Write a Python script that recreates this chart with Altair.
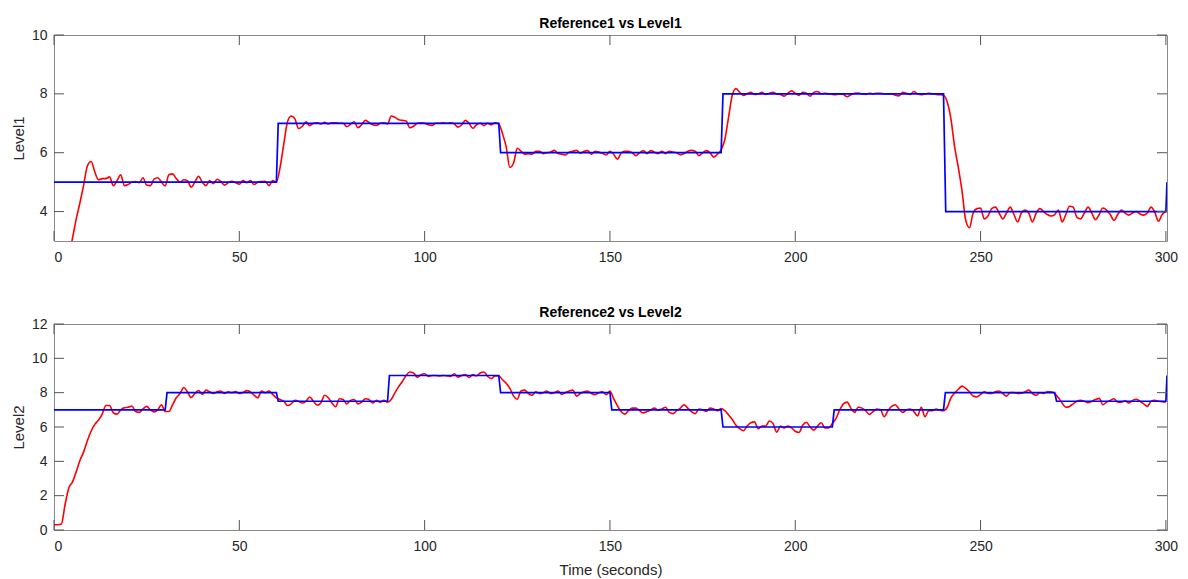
import altair as alt
import pandas as pd

# ---------------- data ----------------
time_s = list(range(301))

level1 = [
    0.6, 1.0, 1.5, 2.0, 2.5, 3.1, 3.75, 4.3, 4.9, 5.55,
    5.7, 5.35, 5.08, 5.12, 5.12, 5.18, 4.88, 5.05, 5.25, 4.88,
    4.92, 5.0, 5.02, 4.98, 5.15, 4.9, 4.88, 5.1, 5.15, 5.0,
    4.87, 5.25, 5.28, 5.12, 5.0, 5.08, 5.05, 4.83, 5.0, 5.2,
    5.0, 4.88, 5.05, 4.95, 5.1, 5.03, 4.9, 4.98, 5.03, 4.98,
    4.93, 5.05, 4.98, 5.05, 4.92, 5.0, 5.02, 5.03, 4.88, 5.05,
    5.0, 5.5, 6.3, 7.05, 7.25, 7.15, 6.82, 6.9, 7.05, 6.92,
    7.0, 7.02, 6.98, 7.03, 6.98, 7.02, 7.02, 7.0, 7.0, 6.88,
    6.97, 7.05, 6.85, 6.95, 7.1, 7.03, 6.95, 6.93, 7.0, 7.02,
    6.98, 7.25, 7.2, 7.12, 7.1, 7.08, 6.85, 6.9, 7.0, 7.02,
    7.0, 6.95, 6.93, 7.0, 7.0, 7.02, 7.0, 7.02, 6.98, 6.87,
    6.95, 7.1, 7.0, 6.83, 6.95, 7.0, 6.92, 7.0, 6.95, 7.02,
    6.98, 6.65, 6.2, 5.5, 5.65, 6.15, 6.05, 5.95, 5.97, 5.95,
    6.05, 6.05, 5.97, 6.0, 6.02, 6.08, 5.97, 5.95, 5.92, 6.02,
    6.05, 6.08, 5.98, 6.05, 6.07, 5.95, 6.05, 6.02, 5.98, 5.92,
    6.05, 5.95, 5.78, 5.98, 6.05, 6.05, 6.0, 5.9, 6.0, 6.07,
    5.97, 6.07, 6.02, 5.97, 6.05, 5.97, 6.05, 6.02, 6.0, 5.93,
    5.97, 6.05, 6.08, 6.05, 5.9, 6.0, 6.07, 6.0, 5.85, 5.95,
    6.1, 6.45, 7.2, 7.95, 8.18, 8.05, 7.95, 8.0, 8.05, 7.98,
    8.0, 8.05, 7.98, 8.02, 8.05, 8.0, 7.98, 7.92, 8.02, 8.1,
    8.02, 7.95, 8.05, 8.02, 7.92, 8.05, 8.08, 8.0, 8.02, 8.0,
    7.98, 7.97, 8.0, 7.98, 7.9, 7.97, 8.02, 8.03, 8.0, 7.98,
    8.02, 8.0, 8.02, 8.02, 8.0, 8.0, 8.0, 7.95, 7.93, 8.05,
    8.02, 7.98, 8.08, 8.0, 7.97, 8.0, 8.02, 8.0, 7.98, 7.97,
    7.95, 7.72, 7.15, 6.2, 5.5, 4.7, 3.7, 3.45, 3.95, 4.1,
    4.12, 3.75, 3.85, 4.1, 4.15, 3.95, 3.75, 3.95, 4.15, 3.9,
    3.65, 3.95, 4.05, 3.95, 3.65, 3.95, 4.1, 4.0, 3.9, 3.85,
    3.9, 4.05, 3.65, 3.9, 4.18, 4.15, 3.8, 3.75, 3.95, 4.15,
    3.95, 3.72, 3.9, 4.12, 4.05, 3.9, 3.7, 3.9, 4.05, 3.95,
    3.88, 3.95, 4.0, 3.92, 3.88, 3.95, 4.15, 3.98, 3.67, 3.9,
    4.0,
]

level2 = [
    0.31, 0.31, 0.35, 1.5, 2.45, 2.8, 3.4, 4.05, 4.55, 5.2,
    5.75, 6.15, 6.4, 6.75, 7.25, 7.25, 6.83, 6.75, 7.0, 7.12,
    7.15, 7.22, 6.9, 6.85, 7.05, 7.2, 7.0, 6.88, 7.0, 7.3,
    6.9, 6.9, 7.3, 7.7, 7.95, 8.3, 8.05, 7.72, 7.95, 8.13,
    7.9, 8.15, 8.05, 7.95, 8.05, 8.1, 7.95, 8.05, 8.0, 8.07,
    7.95, 8.02, 8.12, 8.05, 7.85, 7.7, 8.1, 8.0, 8.1, 7.9,
    7.7, 7.6, 7.5, 7.25, 7.35, 7.55, 7.5, 7.4, 7.5, 7.75,
    7.5, 7.27, 7.4, 7.85, 7.7, 7.4, 7.18, 7.65, 7.6, 7.35,
    7.55, 7.6, 7.35, 7.45, 7.65, 7.6, 7.4, 7.55, 7.45, 7.55,
    7.45, 7.6, 8.0, 8.35, 8.65, 9.0, 9.2, 9.15, 8.9, 9.05,
    9.1, 8.95, 9.0, 9.0, 8.98, 9.0, 8.98, 8.95, 9.1, 8.9,
    9.0, 9.05, 8.88, 9.05, 8.98, 9.15, 9.2, 8.95, 8.82, 8.98,
    8.98, 8.75, 8.55, 8.25, 7.8, 7.62, 8.1, 8.15, 7.95, 7.85,
    8.05, 7.95, 8.0, 8.1, 7.95, 8.0, 8.1, 7.9, 8.0, 8.1,
    8.15, 7.8, 7.95, 8.05, 8.1, 7.95, 7.88, 8.0, 8.05, 7.88,
    8.1, 7.65, 7.25, 6.9, 6.75, 6.95, 7.1, 7.1, 6.95, 6.82,
    6.9, 7.0, 7.1, 6.98, 7.05, 7.15, 6.85, 6.78, 6.95, 7.1,
    7.3, 7.1, 6.9, 6.78, 7.05, 7.0, 6.92, 7.1, 7.05, 6.95,
    7.08, 6.95, 6.7, 6.44, 6.1, 5.9, 5.78, 6.05, 6.25, 6.3,
    5.9, 6.05, 6.05, 6.35, 6.2, 5.7, 6.05, 5.95, 6.05, 5.95,
    5.75, 5.68, 6.1, 6.28, 6.0, 5.82, 6.05, 6.25, 5.95, 5.95,
    6.2, 6.5, 7.0, 7.35, 7.45, 7.1, 6.85, 7.15, 7.1, 6.95,
    6.73, 6.9, 7.05, 7.0, 6.6, 6.95, 7.2, 7.3, 7.05, 6.85,
    7.0, 7.05, 6.9, 6.65, 7.15, 6.6, 6.95, 6.95, 7.05, 6.98,
    6.95, 7.15, 7.7, 7.98, 8.2, 8.38, 8.25, 8.05, 7.8, 7.75,
    7.9, 8.05, 7.95, 7.95, 8.05, 8.1, 7.95, 7.8, 8.0, 8.0,
    7.95, 7.97, 8.05, 8.15, 7.95, 7.85, 8.0, 7.95, 8.05, 8.05,
    7.95, 7.7, 7.4, 7.15, 7.2, 7.35, 7.5, 7.55, 7.5, 7.42,
    7.5, 7.6, 7.67, 7.3, 7.45, 7.55, 7.65, 7.45, 7.45, 7.52,
    7.4, 7.55, 7.62, 7.5, 7.35, 7.2, 7.5, 7.55, 7.5, 7.48,
    7.45,
]

ref1_t = [0, 60, 60.5, 120, 120.5, 180, 180.5, 240, 240.6, 300, 300.3]
ref1_v = [5, 5, 7, 7, 6, 6, 8, 8, 4, 4, 5]

ref2_t = [0, 30, 30.5, 60, 60.5, 90, 90.5, 120, 120.5, 150, 150.5,
          180, 180.5, 210, 210.5, 240, 240.5, 270, 270.5, 300, 300.3]
ref2_v = [7, 7, 8, 8, 7.5, 7.5, 9, 9, 8, 8, 7,
          7, 6, 6, 7, 7, 8, 8, 7.5, 7.5, 9]

x_ticks = [0, 50, 100, 150, 200, 250, 300]
y1_ticks = [4, 6, 8, 10]
y2_ticks = [0, 2, 4, 6, 8, 10, 12]

assert len(level1) == 301 and len(level2) == 301

# ---------------- style ----------------
FONT = "Liberation Sans"
W = 1113
X_MAX = 300.3
TICK_COLOR = "#555555"
TICK_LEN = 10


def panel(title, ylabel, level, ref_t, ref_v, ydom, yticks, h, xtitle):
    meas = pd.DataFrame({"t": time_s, "v": level})
    ref = pd.DataFrame({"t": ref_t, "v": ref_v})
    xs = alt.Scale(domain=[0, X_MAX], nice=False, zero=False)
    ys = alt.Scale(domain=ydom, nice=False, zero=False)

    xaxis = alt.Axis(values=x_ticks, tickSize=0, domain=False, grid=False,
                     labelPadding=9, titlePadding=9, format="d")
    yaxis = alt.Axis(values=yticks, tickSize=0, domain=False, grid=False,
                     labelPadding=7, titlePadding=5, format="d")

    def X():
        return alt.X("t:Q", scale=xs, axis=xaxis, title=xtitle)

    def Y():
        return alt.Y("v:Q", scale=ys, axis=yaxis, title=ylabel)

    red = alt.Chart(meas).mark_line(color="#ff0000", strokeWidth=1.6, clip=True,
                                    interpolate="monotone").encode(x=X(), y=Y())
    blue = alt.Chart(ref).mark_line(color="#0000ff", strokeWidth=1.7, clip=True).encode(
        x=X(), y=Y())
    xt = pd.DataFrame({"t": x_ticks})
    yt = pd.DataFrame({"v": yticks})
    bot = alt.Chart(xt).mark_rule(color=TICK_COLOR, strokeWidth=1).encode(
        x=X(), y=alt.value(h), y2=alt.value(h - TICK_LEN))
    top = alt.Chart(xt).mark_rule(color=TICK_COLOR, strokeWidth=1).encode(
        x=X(), y=alt.value(0), y2=alt.value(TICK_LEN))
    left = alt.Chart(yt).mark_rule(color=TICK_COLOR, strokeWidth=1).encode(
        y=Y(), x=alt.value(0), x2=alt.value(TICK_LEN))
    right = alt.Chart(yt).mark_rule(color=TICK_COLOR, strokeWidth=1).encode(
        y=Y(), x=alt.value(W), x2=alt.value(W - TICK_LEN))

    return alt.layer(red, blue, bot, top, left, right).properties(
        width=W, height=h,
        title=alt.TitleParams(title, fontSize=14, fontWeight="bold", font=FONT,
                              color="#000000", offset=-3, anchor="middle"),
    )


p1 = panel("Reference1 vs Level1", "Level1", level1, ref1_t, ref1_v, [3, 10], y1_ticks, 206, None)
p2 = panel("Reference2 vs Level2", "Level2", level2, ref2_t, ref2_v, [0, 12], y2_ticks, 206, "Time (seconds)")

chart = alt.vconcat(p1, p2, spacing=40).properties(
    padding={"left": 2, "top": 8, "right": 0, "bottom": 0},
    background="#ffffff",
).configure_view(
    stroke="#8a8a8a", strokeWidth=1
).configure_axis(
    labelFont=FONT, labelFontSize=14, labelColor="#262626",
    titleFont=FONT, titleFontSize=15, titleFontWeight="normal", titleColor="#262626",
)

chart.save("out.html", embed_options={"renderer": "svg", "actions": False})
